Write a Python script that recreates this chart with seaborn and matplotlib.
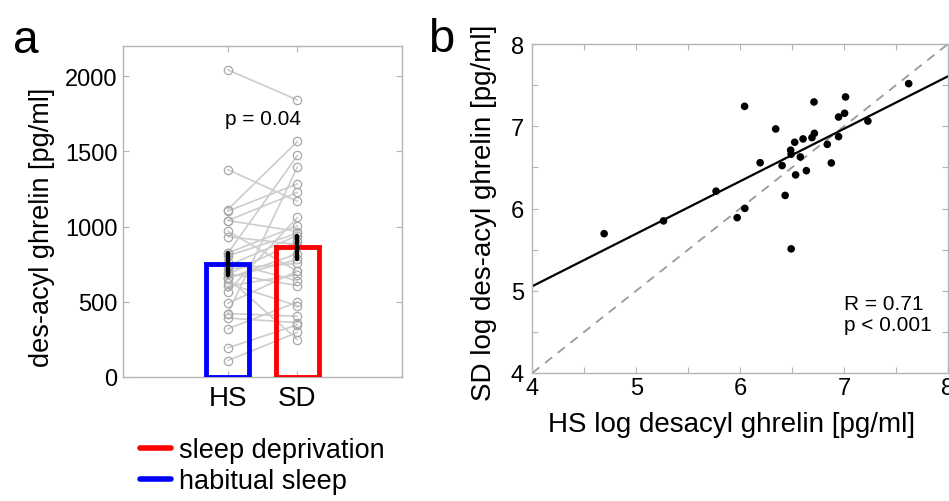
import numpy as np
import pandas as pd
import matplotlib
matplotlib.use("Agg")
import matplotlib.pyplot as plt
import seaborn as sns
from matplotlib.lines import Line2D
from matplotlib.ticker import MultipleLocator

# ---------------- data ----------------
groups = ["HS", "SD"]
group_colors = {"HS": "#0000ff", "SD": "#ff0000"}
# des-acyl ghrelin per subject [pg/ml]
hs_values = [109, 193, 320, 392, 422, 421, 489, 568, 604, 622, 659, 656, 659, 682, 688,
             720, 739, 763, 805, 824, 821, 933, 970, 1040, 1040, 1102, 1112, 1379, 2042]
sd_values = [297, 347, 498, 361, 404, 1397, 704, 1061, 680, 473, 247, 820, 781, 903, 607,
             755, 940, 639, 955, 1006, 1473, 880, 702, 1227, 967, 1284, 1566, 1168, 1841]
yticks_a = [0, 500, 1000, 1500, 2000]
ticks_b = [4, 5, 6, 7, 8]
legend_labels = ["sleep deprivation", "habitual sleep"]
p_text_a = "p = 0.04"
stats_text_b = "R = 0.71\np < 0.001"

n = len(hs_values)
df = pd.DataFrame({
    "subject": list(range(n)) * 2,
    "group": ["HS"] * n + ["SD"] * n,
    "pos": [0] * n + [1] * n,
    "value": hs_values + sd_values,
})
df_b = pd.DataFrame({"hs_log": np.log(hs_values), "sd_log": np.log(sd_values)})

# ---------------- style ----------------
sns.set_theme(style="white")
plt.rcParams["font.family"] = ["Liberation Sans", "DejaVu Sans"]
plt.rcParams["text.color"] = "black"
plt.rcParams["axes.labelcolor"] = "black"
plt.rcParams["xtick.color"] = "black"
plt.rcParams["ytick.color"] = "black"
spine_col = "#b4b4b4"

W, H = 949, 502
fig = plt.figure(figsize=(W / 100, H / 100), dpi=100)

def px_axes(l, t, r, b):
    return fig.add_axes([l / W, (H - b) / H, (r - l) / W, (b - t) / H])

# ---------------- panel a ----------------
ax = px_axes(123, 47, 401.5, 378)
sns.barplot(data=df, x="group", y="value", hue="group", order=groups, hue_order=groups,
            palette=group_colors, fill=False, linewidth=3.5, width=0.62,
            errorbar="se", err_kws={"color": "black", "linewidth": 3.2},
            legend=False, ax=ax)
for p in ax.patches:
    p.set_zorder(4)
for ln in ax.lines:
    ln.set_zorder(5)
n_err = len(ax.lines)
sns.lineplot(data=df, x="pos", y="value", units="subject", estimator=None,
             color="#cdcdcd", linewidth=1.2, marker="o", markersize=6,
             markerfacecolor="none", markeredgecolor="#a8a8a8", markeredgewidth=0.9,
             legend=False, ax=ax)
for ln in ax.lines[n_err:]:
    ln.set_zorder(2)
ax.set_xlim(-1.5, 2.49)
ax.set_ylim(0, 2200)
ax.set_xticks([0, 1])
ax.set_xticklabels(groups, fontsize=20)
ax.set_yticks(yticks_a)
ax.set_yticklabels([str(v) for v in yticks_a], fontsize=17)
ax.set_xlabel("")
ax.set_ylabel("des-acyl ghrelin [pg/ml]", fontsize=19.5)
ax.yaxis.set_label_coords(-0.245, 0.455)
ax.tick_params(axis="both", direction="in", length=4, width=0.8, color=spine_col,
               labelcolor="black", top=True, right=True, left=True, bottom=True)
ax.tick_params(axis="x", pad=6)
ax.tick_params(axis="y", pad=4)
for s in ax.spines.values():
    s.set_color(spine_col)
    s.set_linewidth(1.0)
ax.text(0.5, 1720, p_text_a, fontsize=15, ha="center", va="center", color="black")

# ---------------- panel b ----------------
bx = px_axes(532.3, 45, 948, 374)
bx.set_xlim(4, 8)
bx.set_ylim(4, 8)
bx.plot([4, 8], [4, 8], color="#9a9a9a", linestyle=(0, (5, 4)), linewidth=1.3, zorder=1)
sns.regplot(data=df_b, x="hs_log", y="sd_log", ci=None, truncate=False,
            scatter_kws={"s": 30, "color": "black", "edgecolor": "none", "alpha": 1,
                         "zorder": 3},
            line_kws={"color": "black", "linewidth": 1.6, "zorder": 2}, ax=bx)
bx.set_xlim(4, 8)
bx.set_ylim(4, 8)
bx.set_xticks(ticks_b)
bx.set_yticks(ticks_b)
bx.set_xticklabels([str(v) for v in ticks_b], fontsize=17)
bx.set_yticklabels([str(v) for v in ticks_b], fontsize=17)
bx.xaxis.set_minor_locator(MultipleLocator(0.5))
bx.yaxis.set_minor_locator(MultipleLocator(0.5))
bx.tick_params(axis="both", which="both", direction="in", length=4, width=0.8,
               color=spine_col, labelcolor="black", top=True, right=True, left=True,
               bottom=True)
bx.tick_params(axis="x", pad=3)
bx.tick_params(axis="y", pad=6)
bx.set_xlabel("HS log desacyl ghrelin [pg/ml]", fontsize=20)
bx.set_ylabel("SD log des-acyl ghrelin [pg/ml]", fontsize=20)
bx.yaxis.set_label_coords(-0.085, 0.49)
bx.xaxis.set_label_coords(0.48, -0.115)
for s in bx.spines.values():
    s.set_color(spine_col)
    s.set_linewidth(1.0)
bx.text(7.0, 4.72, stats_text_b, fontsize=15, ha="left", va="center", linespacing=1.1,
        color="black")

# ---------------- panel letters ----------------
fig.text(13 / W, (H - 53) / H, "a", fontsize=33, ha="left", va="baseline", color="black")
fig.text(428 / W, (H - 52) / H, "b", fontsize=34, ha="left", va="baseline", color="black")

# ---------------- legend ----------------
handles = [Line2D([0], [0], color=group_colors["SD"], linewidth=4),
           Line2D([0], [0], color=group_colors["HS"], linewidth=4)]
leg = fig.legend(handles, legend_labels, loc="upper left",
                 bbox_to_anchor=(140 / W, (H - 438) / H), frameon=False, fontsize=19.5,
                 handlelength=1.15, handletextpad=0.3, labelspacing=0.2,
                 borderpad=0, borderaxespad=0)
for t in leg.get_texts():
    t.set_color("black")

fig.savefig("out.png", dpi=100)
